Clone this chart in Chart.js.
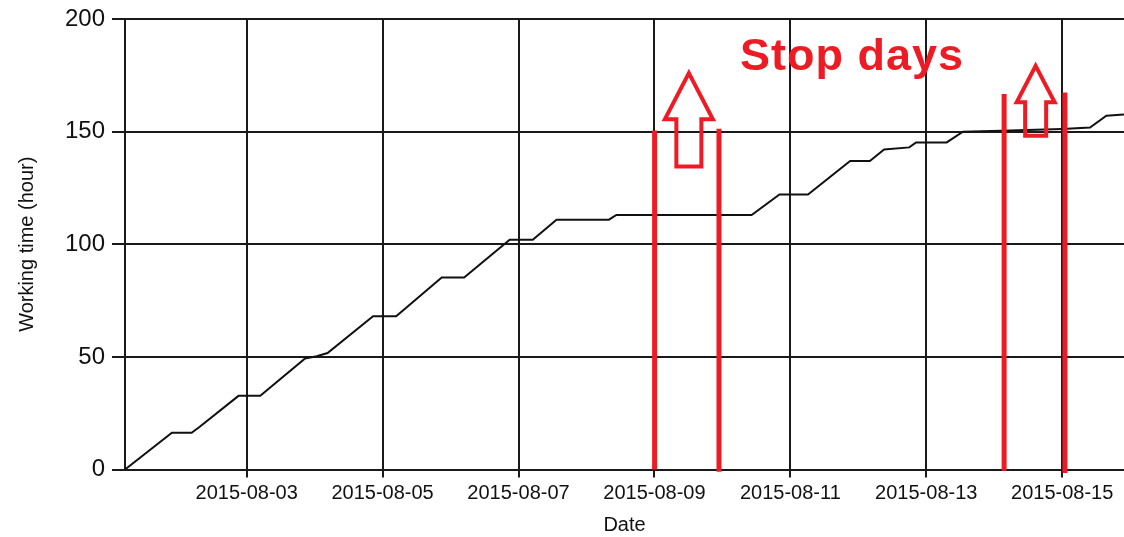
<!DOCTYPE html>
<html>
<head>
<meta charset="utf-8">
<script src="https://cdn.jsdelivr.net/npm/chart.js@4.4.1/dist/chart.umd.min.js"></script>
<style>
  html, body { margin: 0; padding: 0; background: #fff; }
  #wrap { width: 1124px; height: 537px; }
</style>
</head>
<body>
<div id="wrap"><canvas id="chart" width="1124" height="537"></canvas></div>
<script>
// Datos
const workDates = [
    '2015-08-01 05:02', '2015-08-01 21:36', '2015-08-02 04:34', '2015-08-02 07:26',
    '2015-08-02 21:07', '2015-08-03 04:48', '2015-08-03 20:38', '2015-08-04 00:43',
    '2015-08-04 04:34', '2015-08-04 20:38', '2015-08-05 04:48', '2015-08-05 20:53',
    '2015-08-06 04:48', '2015-08-06 20:53', '2015-08-07 05:02', '2015-08-07 13:26',
    '2015-08-08 07:55', '2015-08-08 10:34', '2015-08-10 10:19', '2015-08-10 20:10',
    '2015-08-11 06:14', '2015-08-11 21:07', '2015-08-12 04:05', '2015-08-12 09:07',
    '2015-08-12 18:00', '2015-08-12 20:24', '2015-08-13 07:12', '2015-08-13 12:58',
    '2015-08-14 02:24', '2015-08-15 00:00', '2015-08-15 09:50', '2015-08-15 15:36',
    '2015-08-15 21:50'
];
const workHours = [
    0, 16.3, 16.3, 19.0,
    32.7, 32.7, 49.3, 50.3,
    51.7, 68.0, 68.0, 85.2,
    85.2, 102.0, 102.0, 110.9,
    110.9, 113.0, 113.0, 122.1,
    122.1, 137.0, 137.0, 142.1,
    143.0, 145.2, 145.2, 150.0,
    150.4, 151.2, 151.8, 157.1,
    157.6
];
const xTickLabels = ['2015-08-03', '2015-08-05', '2015-08-07', '2015-08-09', '2015-08-11', '2015-08-13', '2015-08-15'];
const yTicks = [0, 50, 100, 150, 200];

// Anotaciones en rojo
const stopLineDates = ['2015-08-09 00:04', '2015-08-09 22:48', '2015-08-14 03:30', '2015-08-15 00:58'];
const stopLineTops = [150.5, 151.3, 166.7, 167.4];
const stopLineBottoms = [0, -1, -0.5, -1.5];
const arrowDates = ['2015-08-09 12:10', '2015-08-14 14:38'];
const arrowTips = [176, 179.2];
const arrowHeadBases = [155.5, 163];
const arrowTails = [134.5, 148.2];
const stopLabel = 'Stop days';
const stopLabelDate = '2015-08-10 06:14';
const stopLabelY = 177.3;

const RED = '#ed1c24';

// Convierte 'YYYY-MM-DD HH:MM' a día de agosto con decimales
const toDay = (s) => {
    const [d, t] = s.split(' ');
    const [yy, mm, dd] = d.split('-').map(Number);
    const [hh, mi] = (t || '00:00').split(':').map(Number);
    return (Date.UTC(yy, mm - 1, dd, hh, mi) - Date.UTC(2015, 7, 0)) / 86400000;
};
const pad = (n) => String(n).padStart(2, '0');

const workPoints = workDates.map((d, i) => ({x: toDay(d), y: workHours[i]}));
const tickDays = xTickLabels.map(toDay);

const stopDatasets = stopLineDates.map((d, i) => ({
    data: [{x: toDay(d), y: stopLineBottoms[i]}, {x: toDay(d), y: stopLineTops[i]}],
    borderColor: RED,
    borderWidth: 5,
    borderCapStyle: 'butt',
    pointRadius: 0,
    clip: false,
    order: 0
}));

// Flechas huecas y texto
const annotationPlugin = {
    id: 'stopAnnotations',
    afterDatasetsDraw(chart) {
        const {ctx, scales: {x, y}} = chart;
        const headHalf = [24, 19];
        const shaftHalf = [12.5, 10.5];
        ctx.save();
        ctx.strokeStyle = RED;
        ctx.lineWidth = 4;
        ctx.lineJoin = 'miter';
        arrowDates.forEach((d, i) => {
            const cx = x.getPixelForValue(toDay(d));
            const tip = y.getPixelForValue(arrowTips[i]);
            const base = y.getPixelForValue(arrowHeadBases[i]);
            const tail = y.getPixelForValue(arrowTails[i]);
            ctx.beginPath();
            ctx.moveTo(cx, tip);
            ctx.lineTo(cx + headHalf[i], base);
            ctx.lineTo(cx + shaftHalf[i], base);
            ctx.lineTo(cx + shaftHalf[i], tail);
            ctx.lineTo(cx - shaftHalf[i], tail);
            ctx.lineTo(cx - shaftHalf[i], base);
            ctx.lineTo(cx - headHalf[i], base);
            ctx.closePath();
            ctx.stroke();
        });
        ctx.fillStyle = RED;
        ctx.font = 'bold 45px "Liberation Sans", Arial, sans-serif';
        ctx.letterSpacing = '1px';
        ctx.textBaseline = 'alphabetic';
        ctx.textAlign = 'left';
        ctx.fillText(stopLabel, x.getPixelForValue(toDay(stopLabelDate)), y.getPixelForValue(stopLabelY));
        ctx.restore();
    }
};

new Chart(document.getElementById('chart'), {
    type: 'line',
    data: {
        datasets: [
            ...stopDatasets,
            {
                data: workPoints,
                borderColor: '#111',
                borderWidth: 2,
                pointRadius: 0,
                tension: 0,
                order: 1
            }
        ]
    },
    options: {
        responsive: false,
        animation: false,
        layout: {padding: {top: 18, right: 0, left: 0, bottom: 0}},
        plugins: {legend: {display: false}, tooltip: {enabled: false}},
        scales: {
            x: {
                type: 'linear',
                min: workPoints[0].x,
                max: workPoints[workPoints.length - 1].x,
                afterBuildTicks: (scale) => {
                    scale.ticks = tickDays.map(v => ({value: v}));
                },
                afterFit: (scale) => { scale.height = 67.5; },
                ticks: {
                    callback: (v) => '2015-08-' + pad(Math.round(v)),
                    color: '#111',
                    font: {family: '"Liberation Sans", Arial, sans-serif', size: 20},
                    padding: 4,
                    maxRotation: 0,
                    autoSkip: false
                },
                grid: {color: '#1a1a1a', lineWidth: 2, tickLength: 8},
                border: {color: '#1a1a1a', width: 2},
                title: {
                    display: true,
                    text: 'Date',
                    color: '#111',
                    font: {family: '"Liberation Sans", Arial, sans-serif', size: 20},
                    padding: {top: 0, bottom: 0}
                }
            },
            y: {
                min: 0,
                max: 200,
                afterBuildTicks: (scale) => {
                    scale.ticks = yTicks.map(v => ({value: v}));
                },
                afterFit: (scale) => { scale.width = 125; },
                ticks: {
                    color: '#111',
                    font: {family: '"Liberation Sans", Arial, sans-serif', size: 24, lineHeight: 1},
                    padding: 7
                },
                grid: {color: '#1a1a1a', lineWidth: 2, tickLength: 13},
                border: {color: '#1a1a1a', width: 2},
                title: {
                    display: true,
                    text: 'Working time (hour)',
                    color: '#111',
                    font: {family: '"Liberation Sans", Arial, sans-serif', size: 20},
                    padding: {top: 15, bottom: 0}
                }
            }
        }
    },
    plugins: [annotationPlugin]
});
</script>
</body>
</html>
